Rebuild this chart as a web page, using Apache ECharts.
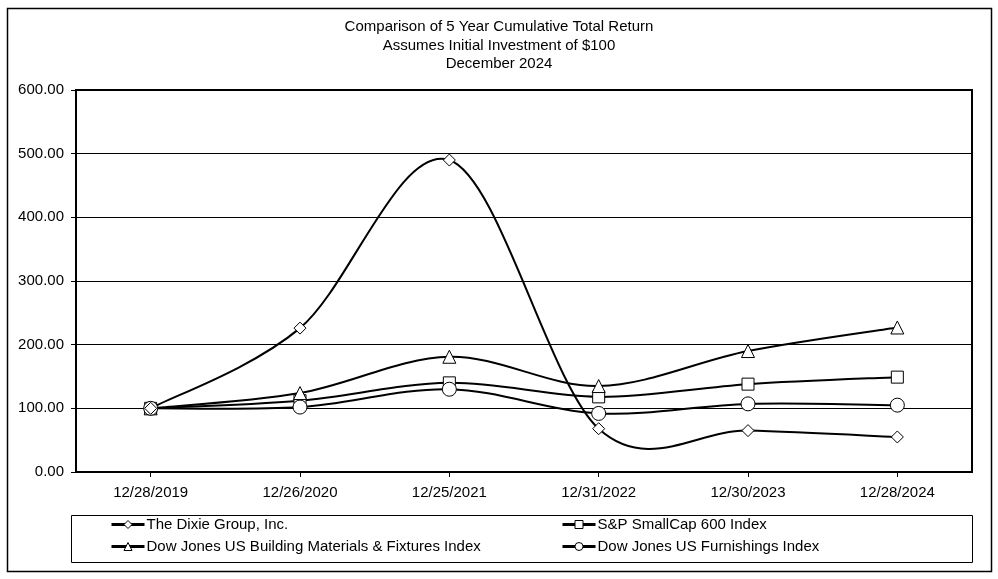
<!DOCTYPE html>
<html>
<head>
<meta charset="utf-8">
<script src="https://cdn.jsdelivr.net/npm/echarts@6/dist/echarts.min.js"></script>
<style>
html,body{margin:0;padding:0;background:#fff;}
#chart{width:998px;height:579px;}
</style>
</head>
<body>
<div id="chart"></div>
<script>
var categories = ['12/28/2019','12/26/2020','12/25/2021','12/31/2022','12/30/2023','12/28/2024'];
var dixie = [100, 226, 490, 68, 65, 55];
var spSmall = [100, 112, 140, 118, 138, 149];
var djBuilding = [100, 124, 181, 135, 190, 227];
var djFurnish = [100, 102, 130, 92, 107, 105];
var yTicks = [0, 100, 200, 300, 400, 500, 600];
var seriesNames = ['The Dixie Group, Inc.', 'S&P SmallCap 600 Index', 'Dow Jones US Building Materials & Fixtures Index', 'Dow Jones US Furnishings Index'];

var FONT = 'Arial, "Liberation Sans", sans-serif';
var chart = echarts.init(document.getElementById('chart'));

// Markers (and legend entries) via line series; the visible line is hidden here
function mk(name, data, symbol, size) {
  return {
    name: name, type: 'line', data: data, z: 3,
    symbol: symbol, symbolSize: size, showSymbol: true,
    lineStyle: {color: '#000', width: 2, opacity: 0},
    itemStyle: {color: '#fff', borderColor: '#000', borderWidth: 1},
    emphasis: {disabled: true}
  };
}

// Spreadsheet-style smoothed curve (Catmull-Rom Bezier) drawn through the axis scales
function curve(arr) {
  return {
    type: 'custom', z: 1, silent: true,
    data: arr.map(function (v, i) { return [i, v]; }),
    renderItem: function (params, api) {
      var i = params.dataIndex, n = arr.length;
      if (i >= n - 1) return null;
      function P(j) { j = Math.max(0, Math.min(n - 1, j)); return api.coord([j, arr[j]]); }
      var p0 = P(i - 1), p1 = P(i), p2 = P(i + 1), p3 = P(i + 2);
      var k = 1 / 6;
      return {
        type: 'bezierCurve',
        shape: {
          x1: p1[0], y1: p1[1], x2: p2[0], y2: p2[1],
          cpx1: p1[0] + (p2[0] - p0[0]) * k, cpy1: p1[1] + (p2[1] - p0[1]) * k,
          cpx2: p2[0] - (p3[0] - p1[0]) * k, cpy2: p2[1] - (p3[1] - p1[1]) * k
        },
        style: {stroke: '#000', lineWidth: 2, fill: null}
      };
    }
  };
}

var legendCommon = {
  orient: 'vertical', top: 512, itemWidth: 33, itemHeight: 10, itemGap: 7,
  textStyle: {fontSize: 15, color: '#000', fontFamily: FONT, padding: [0, 0, 0, -3]},
  lineStyle: {color: '#000', width: 3, opacity: 1},
  itemStyle: {color: '#fff', borderColor: '#000', borderWidth: 1},
  selectedMode: false
};

chart.setOption({
  animation: false,
  backgroundColor: '#fff',
  textStyle: {fontFamily: FONT},
  title: {
    text: 'Comparison of 5 Year Cumulative Total Return\nAssumes Initial Investment of $100\nDecember 2024',
    left: 'center', top: 13,
    textStyle: {fontSize: 15, fontWeight: 'normal', color: '#000', lineHeight: 18.5, fontFamily: FONT}
  },
  graphic: [
    {type: 'rect', left: 5, top: 6, shape: {width: 984, height: 563}, style: {fill: 'none', stroke: '#000', lineWidth: 1.5}, silent: true},
    {type: 'rect', left: 69, top: 513, shape: {width: 901, height: 47}, style: {fill: 'none', stroke: '#000', lineWidth: 1}, silent: true}
  ],
  legend: [
    Object.assign({data: [seriesNames[0], seriesNames[2]], left: 105}, legendCommon),
    Object.assign({data: [seriesNames[1], seriesNames[3]], left: 556}, legendCommon)
  ],
  grid: {left: 76, right: 26, top: 90, bottom: 107, show: true, borderColor: '#000', borderWidth: 2, backgroundColor: 'transparent'},
  xAxis: {
    type: 'category', data: categories, boundaryGap: true,
    axisLine: {show: true, lineStyle: {color: '#000', width: 2}},
    axisTick: {show: true, alignWithLabel: true, length: 5, lineStyle: {color: '#000'}},
    axisLabel: {fontSize: 15, color: '#000', margin: 13, fontFamily: FONT},
    splitLine: {show: false}
  },
  yAxis: {
    type: 'value', min: yTicks[0], max: yTicks[yTicks.length - 1], interval: 100,
    axisLine: {show: true, lineStyle: {color: '#000', width: 2}},
    axisTick: {show: true, length: 5, lineStyle: {color: '#000'}},
    axisLabel: {fontSize: 15, color: '#000', margin: 12, fontFamily: FONT, formatter: function (v) { return v.toFixed(2); }},
    splitLine: {show: true, lineStyle: {color: '#000', width: 1}}
  },
  series: [
    curve(spSmall), curve(djBuilding), curve(djFurnish), curve(dixie),
    mk(seriesNames[1], spSmall, 'rect', 12),
    mk(seriesNames[2], djBuilding, 'triangle', 13),
    mk(seriesNames[3], djFurnish, 'circle', 14),
    mk(seriesNames[0], dixie, 'diamond', 12)
  ]
});
</script>
</body>
</html>
